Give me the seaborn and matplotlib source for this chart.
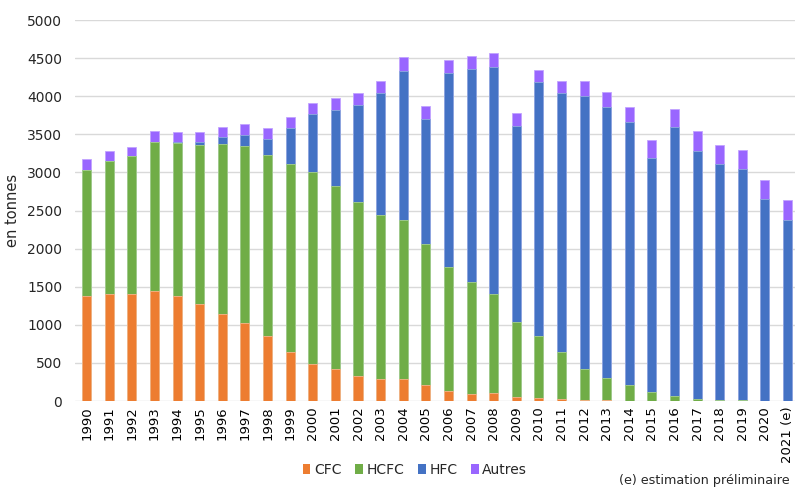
import numpy as np
import pandas as pd
import matplotlib
matplotlib.use("Agg")
import matplotlib.pyplot as plt
from matplotlib.patches import Patch
import seaborn as sns

# valeurs (en tonnes)
years = [str(y) for y in range(1990, 2021)] + ["2021 (e)"]
cfc = [1380, 1405, 1405, 1450, 1377, 1268, 1136, 1018, 851, 640, 491,
       421, 329, 285, 285, 211, 136, 96, 110, 53, 35,
       31, 13, 9, 0, 0, 0, 0, 0, 0, 0, 0]
hcfc = [1655, 1740, 1810, 1955, 2005, 2087, 2232, 2329, 2373, 2470, 2509,
        2395, 2289, 2162, 2088, 1855, 1623, 1465, 1294, 982, 816,
        618, 408, 289, 211, 114, 66, 26, 13, 13, 0, 0]
hfc = [0, 0, 0, 0, 13, 40, 93, 144, 219, 469, 763,
       1000, 1268, 1601, 1960, 1636, 2544, 2794, 2978, 2570, 3329,
       3395, 3588, 3562, 3451, 3075, 3526, 3259, 3101, 3026, 2645, 2373]
autres = [136, 140, 120, 145, 131, 131, 140, 149, 145, 145, 145,
          158, 162, 158, 180, 175, 171, 171, 184, 171, 162,
          162, 197, 201, 202, 232, 246, 255, 241, 259, 259, 259]

labels = ["CFC", "HCFC", "HFC", "Autres"]
colors = ["#ED7D31", "#70AD47", "#4472C4", "#9966FF"]
edges = ["#F6B48A", "#A6D08A", "#8FA9DE", "#C2A3FF"]

df = pd.DataFrame({"annee": years, "CFC": cfc, "HCFC": hcfc, "HFC": hfc, "Autres": autres})
cum = df[labels].cumsum(axis=1)

sns.set_style("white")
plt.rcParams["font.family"] = ["DejaVu Sans"]

fig = plt.figure(figsize=(7.95, 4.93), dpi=100)
ax = fig.add_axes([0.094, 0.1866, 0.906, 0.7728])

# barres empilées : on trace les cumuls du plus haut au plus bas
for i in range(len(labels) - 1, -1, -1):
    sns.barplot(x=df["annee"], y=cum[labels[i]], color=colors[i], width=0.4,
                edgecolor=edges[i], linewidth=0.6, saturation=1, ax=ax, zorder=3)

ax.set_ylim(0, 5000)
ax.set_yticks(np.arange(0, 5001, 500))
ax.set_xlim(-0.53, 31.33)
ax.grid(axis="y", color="#D9D9D9", linewidth=1, zorder=0)
for s in ax.spines.values():
    s.set_visible(False)
ax.tick_params(axis="both", length=0)
ax.tick_params(axis="y", labelsize=10, pad=9, labelcolor="#262626")
ax.tick_params(axis="x", labelsize=9.5, pad=4, labelcolor="#000000")
plt.setp(ax.get_xticklabels(), rotation=90)
ax.set_xlabel("")
ax.set_ylabel("en tonnes", fontsize=10.5, color="#262626", labelpad=5)

handles = [Patch(facecolor=c, edgecolor="none", label=l) for c, l in zip(colors, labels)]
fig.legend(handles=handles, loc="center", bbox_to_anchor=(0.522, 0.047), ncol=4,
           frameon=False, handlelength=0.55, handleheight=0.8, handletextpad=0.25,
           columnspacing=1.0, prop={"size": 10})
fig.text(0.993, 0.012, "(e) estimation préliminaire", ha="right", va="bottom",
         fontsize=9.2, color="#262626")

fig.savefig("out.png", dpi=100)
